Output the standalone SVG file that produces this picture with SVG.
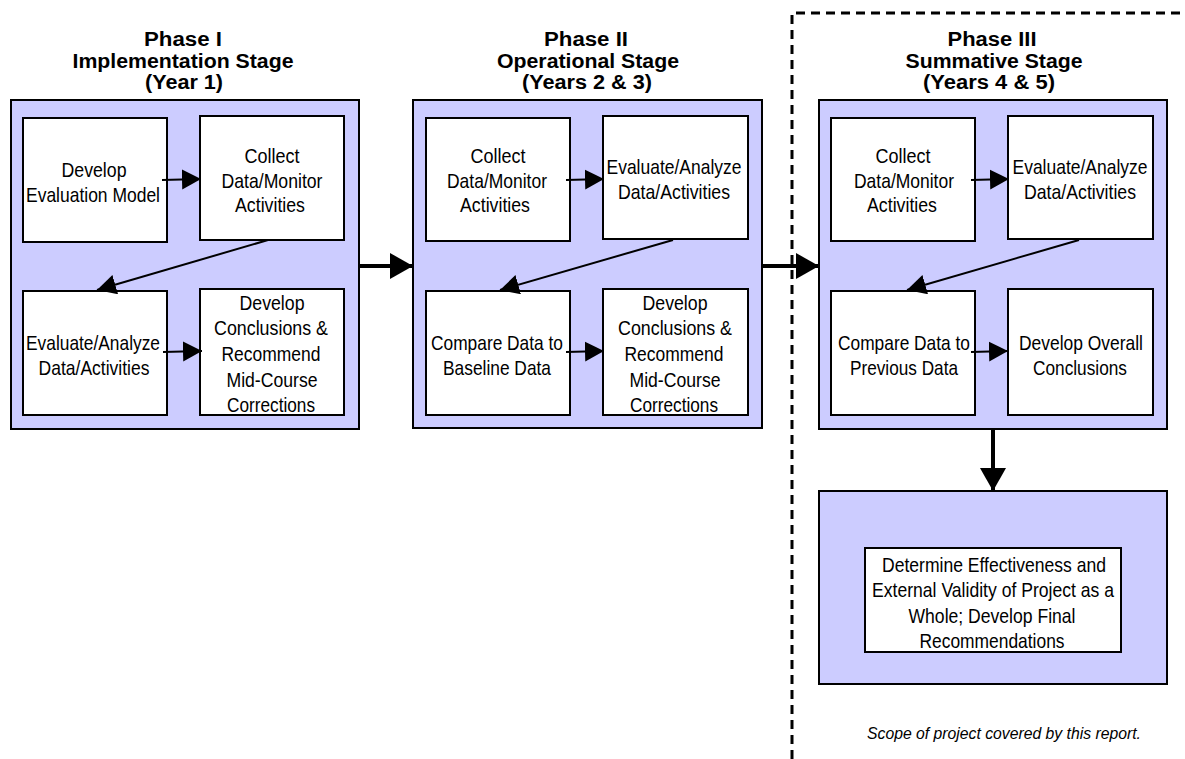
<svg xmlns="http://www.w3.org/2000/svg" width="1185" height="759" viewBox="0 0 1185 759">
  <style>
    .stage { fill: #ccccff; stroke: #000; stroke-width: 2; }
    .step { fill: #fff; stroke: #000; stroke-width: 2; }
    .title { font-family: "Liberation Sans", Arial, sans-serif; font-weight: bold; font-size: 20px; text-anchor: middle; fill: #000; }
    .label { font-family: "Liberation Sans", Arial, sans-serif; font-size: 21px; text-anchor: middle; fill: #000; }
    .note { font-family: "Liberation Sans", Arial, sans-serif; font-style: italic; font-size: 16px; text-anchor: middle; fill: #000; }
    .thin { stroke: #000; stroke-width: 2; fill: none; marker-end: url(#headSmall); }
    .thick { stroke: #000; stroke-width: 4; fill: none; marker-end: url(#headBig); }
    .scope { stroke: #000; stroke-width: 3; fill: none; stroke-dasharray: 9 6; }
  </style>
  <defs>
    <marker id="headSmall" markerUnits="userSpaceOnUse" markerWidth="20" markerHeight="22" refX="19" refY="10" orient="auto">
      <path d="M0,0 L19,10 L0,20 Z" fill="#000"/>
    </marker>
    <marker id="headBig" markerUnits="userSpaceOnUse" markerWidth="24" markerHeight="28" refX="23" refY="13" orient="auto">
      <path d="M0,0 L23,13 L0,26 Z" fill="#000"/>
    </marker>
  </defs>

  <rect width="1185" height="759" fill="#fff"/>

  <!-- scope boundary -->
  <g id="scope-boundary">
    <path class="scope" d="M792,759 L792,13 L1185,13"/>
    <text class="note" x="1004" y="739" textLength="274" lengthAdjust="spacingAndGlyphs">Scope of project covered by this report.</text>
  </g>

  <!-- Phase I -->
  <g id="phase1">
    <text class="title" x="183" y="46" textLength="78" lengthAdjust="spacingAndGlyphs">Phase I</text>
    <text class="title" x="183" y="68" textLength="221" lengthAdjust="spacingAndGlyphs">Implementation Stage</text>
    <text class="title" x="184" y="89" textLength="78" lengthAdjust="spacingAndGlyphs">(Year 1)</text>
    <rect class="stage" x="11" y="100" width="348" height="329"/>
  </g>
  <g id="p1-develop-model">
    <rect class="step" x="23" y="118" width="144" height="124"/>
    <text class="label" x="94" y="177" textLength="65" lengthAdjust="spacingAndGlyphs">Develop</text>
    <text class="label" x="93" y="202" textLength="134" lengthAdjust="spacingAndGlyphs">Evaluation Model</text>
  </g>
  <g id="p1-collect">
    <rect class="step" x="200" y="116" width="144" height="124"/>
    <text class="label" x="272" y="163" textLength="55" lengthAdjust="spacingAndGlyphs">Collect</text>
    <text class="label" x="272" y="188" textLength="101" lengthAdjust="spacingAndGlyphs">Data/Monitor</text>
    <text class="label" x="270" y="212" textLength="70" lengthAdjust="spacingAndGlyphs">Activities</text>
  </g>
  <g id="p1-evaluate">
    <rect class="step" x="23" y="291" width="144" height="124"/>
    <text class="label" x="93" y="350" textLength="134" lengthAdjust="spacingAndGlyphs">Evaluate/Analyze</text>
    <text class="label" x="94" y="375" textLength="111" lengthAdjust="spacingAndGlyphs">Data/Activities</text>
  </g>
  <g id="p1-conclusions">
    <rect class="step" x="200" y="289" width="144" height="126"/>
    <text class="label" x="272" y="310" textLength="65" lengthAdjust="spacingAndGlyphs">Develop</text>
    <text class="label" x="271" y="335" textLength="114" lengthAdjust="spacingAndGlyphs">Conclusions &amp;</text>
    <text class="label" x="271" y="361" textLength="99" lengthAdjust="spacingAndGlyphs">Recommend</text>
    <text class="label" x="272" y="387" textLength="91" lengthAdjust="spacingAndGlyphs">Mid-Course</text>
    <text class="label" x="271" y="412" textLength="88" lengthAdjust="spacingAndGlyphs">Corrections</text>
  </g>

  <!-- Phase II -->
  <g id="phase2">
    <text class="title" x="586" y="46" textLength="84" lengthAdjust="spacingAndGlyphs">Phase II</text>
    <text class="title" x="588" y="68" textLength="182" lengthAdjust="spacingAndGlyphs">Operational Stage</text>
    <text class="title" x="587" y="89" textLength="130" lengthAdjust="spacingAndGlyphs">(Years 2 &amp; 3)</text>
    <rect class="stage" x="413" y="100" width="349" height="328"/>
  </g>
  <g id="p2-collect">
    <rect class="step" x="426" y="118" width="144" height="123"/>
    <text class="label" x="498" y="163" textLength="55" lengthAdjust="spacingAndGlyphs">Collect</text>
    <text class="label" x="497" y="188" textLength="100" lengthAdjust="spacingAndGlyphs">Data/Monitor</text>
    <text class="label" x="495" y="212" textLength="70" lengthAdjust="spacingAndGlyphs">Activities</text>
  </g>
  <g id="p2-evaluate">
    <rect class="step" x="603" y="116" width="145" height="123"/>
    <text class="label" x="674" y="174" textLength="135" lengthAdjust="spacingAndGlyphs">Evaluate/Analyze</text>
    <text class="label" x="674" y="199" textLength="112" lengthAdjust="spacingAndGlyphs">Data/Activities</text>
  </g>
  <g id="p2-compare">
    <rect class="step" x="426" y="291" width="144" height="124"/>
    <text class="label" x="497" y="350" textLength="132" lengthAdjust="spacingAndGlyphs">Compare Data to</text>
    <text class="label" x="497" y="375" textLength="108" lengthAdjust="spacingAndGlyphs">Baseline Data</text>
  </g>
  <g id="p2-conclusions">
    <rect class="step" x="603" y="289" width="145" height="126"/>
    <text class="label" x="675" y="310" textLength="65" lengthAdjust="spacingAndGlyphs">Develop</text>
    <text class="label" x="675" y="335" textLength="114" lengthAdjust="spacingAndGlyphs">Conclusions &amp;</text>
    <text class="label" x="674" y="361" textLength="99" lengthAdjust="spacingAndGlyphs">Recommend</text>
    <text class="label" x="675" y="387" textLength="91" lengthAdjust="spacingAndGlyphs">Mid-Course</text>
    <text class="label" x="674" y="412" textLength="88" lengthAdjust="spacingAndGlyphs">Corrections</text>
  </g>

  <!-- Phase III -->
  <g id="phase3">
    <text class="title" x="992" y="46" textLength="89" lengthAdjust="spacingAndGlyphs">Phase III</text>
    <text class="title" x="994" y="68" textLength="177" lengthAdjust="spacingAndGlyphs">Summative Stage</text>
    <text class="title" x="989" y="89" textLength="132" lengthAdjust="spacingAndGlyphs">(Years 4 &amp; 5)</text>
    <rect class="stage" x="819" y="100" width="348" height="329"/>
  </g>
  <g id="p3-collect">
    <rect class="step" x="831" y="118" width="144" height="123"/>
    <text class="label" x="903" y="163" textLength="55" lengthAdjust="spacingAndGlyphs">Collect</text>
    <text class="label" x="904" y="188" textLength="100" lengthAdjust="spacingAndGlyphs">Data/Monitor</text>
    <text class="label" x="902" y="212" textLength="70" lengthAdjust="spacingAndGlyphs">Activities</text>
  </g>
  <g id="p3-evaluate">
    <rect class="step" x="1008" y="116" width="145" height="123"/>
    <text class="label" x="1080" y="174" textLength="135" lengthAdjust="spacingAndGlyphs">Evaluate/Analyze</text>
    <text class="label" x="1080" y="199" textLength="112" lengthAdjust="spacingAndGlyphs">Data/Activities</text>
  </g>
  <g id="p3-compare">
    <rect class="step" x="831" y="291" width="144" height="124"/>
    <text class="label" x="904" y="350" textLength="132" lengthAdjust="spacingAndGlyphs">Compare Data to</text>
    <text class="label" x="904" y="375" textLength="108" lengthAdjust="spacingAndGlyphs">Previous Data</text>
  </g>
  <g id="p3-conclusions">
    <rect class="step" x="1008" y="289" width="145" height="126"/>
    <text class="label" x="1081" y="350" textLength="124" lengthAdjust="spacingAndGlyphs">Develop Overall</text>
    <text class="label" x="1080" y="375" textLength="94" lengthAdjust="spacingAndGlyphs">Conclusions</text>
  </g>

  <!-- Final summary stage -->
  <g id="final-stage">
    <rect class="stage" x="819" y="491" width="348" height="193"/>
    <rect class="step" x="865" y="548" width="256" height="104"/>
    <text class="label" x="994" y="572" textLength="224" lengthAdjust="spacingAndGlyphs">Determine Effectiveness and</text>
    <text class="label" x="993" y="597" textLength="242" lengthAdjust="spacingAndGlyphs">External Validity of Project as a</text>
    <text class="label" x="992" y="623" textLength="167" lengthAdjust="spacingAndGlyphs">Whole; Develop Final</text>
    <text class="label" x="992" y="648" textLength="145" lengthAdjust="spacingAndGlyphs">Recommendations</text>
  </g>

  <!-- connectors -->
  <g id="connectors">
    <line class="thin" x1="162" y1="180" x2="201" y2="179"/>
    <line class="thin" x1="268" y1="240" x2="97" y2="290"/>
    <line class="thin" x1="163" y1="352" x2="202" y2="351"/>

    <line class="thin" x1="566" y1="180" x2="604" y2="179"/>
    <line class="thin" x1="673" y1="240" x2="500" y2="290"/>
    <line class="thin" x1="566" y1="352" x2="604" y2="351"/>

    <line class="thin" x1="971" y1="180" x2="1009" y2="179"/>
    <line class="thin" x1="1079" y1="240" x2="907" y2="290"/>
    <line class="thin" x1="971" y1="352" x2="1008" y2="351"/>

    <line class="thick" x1="359" y1="266" x2="413" y2="266"/>
    <line class="thick" x1="762" y1="266" x2="819" y2="266"/>
    <line class="thick" x1="993" y1="430" x2="993" y2="491"/>
  </g>
</svg>
